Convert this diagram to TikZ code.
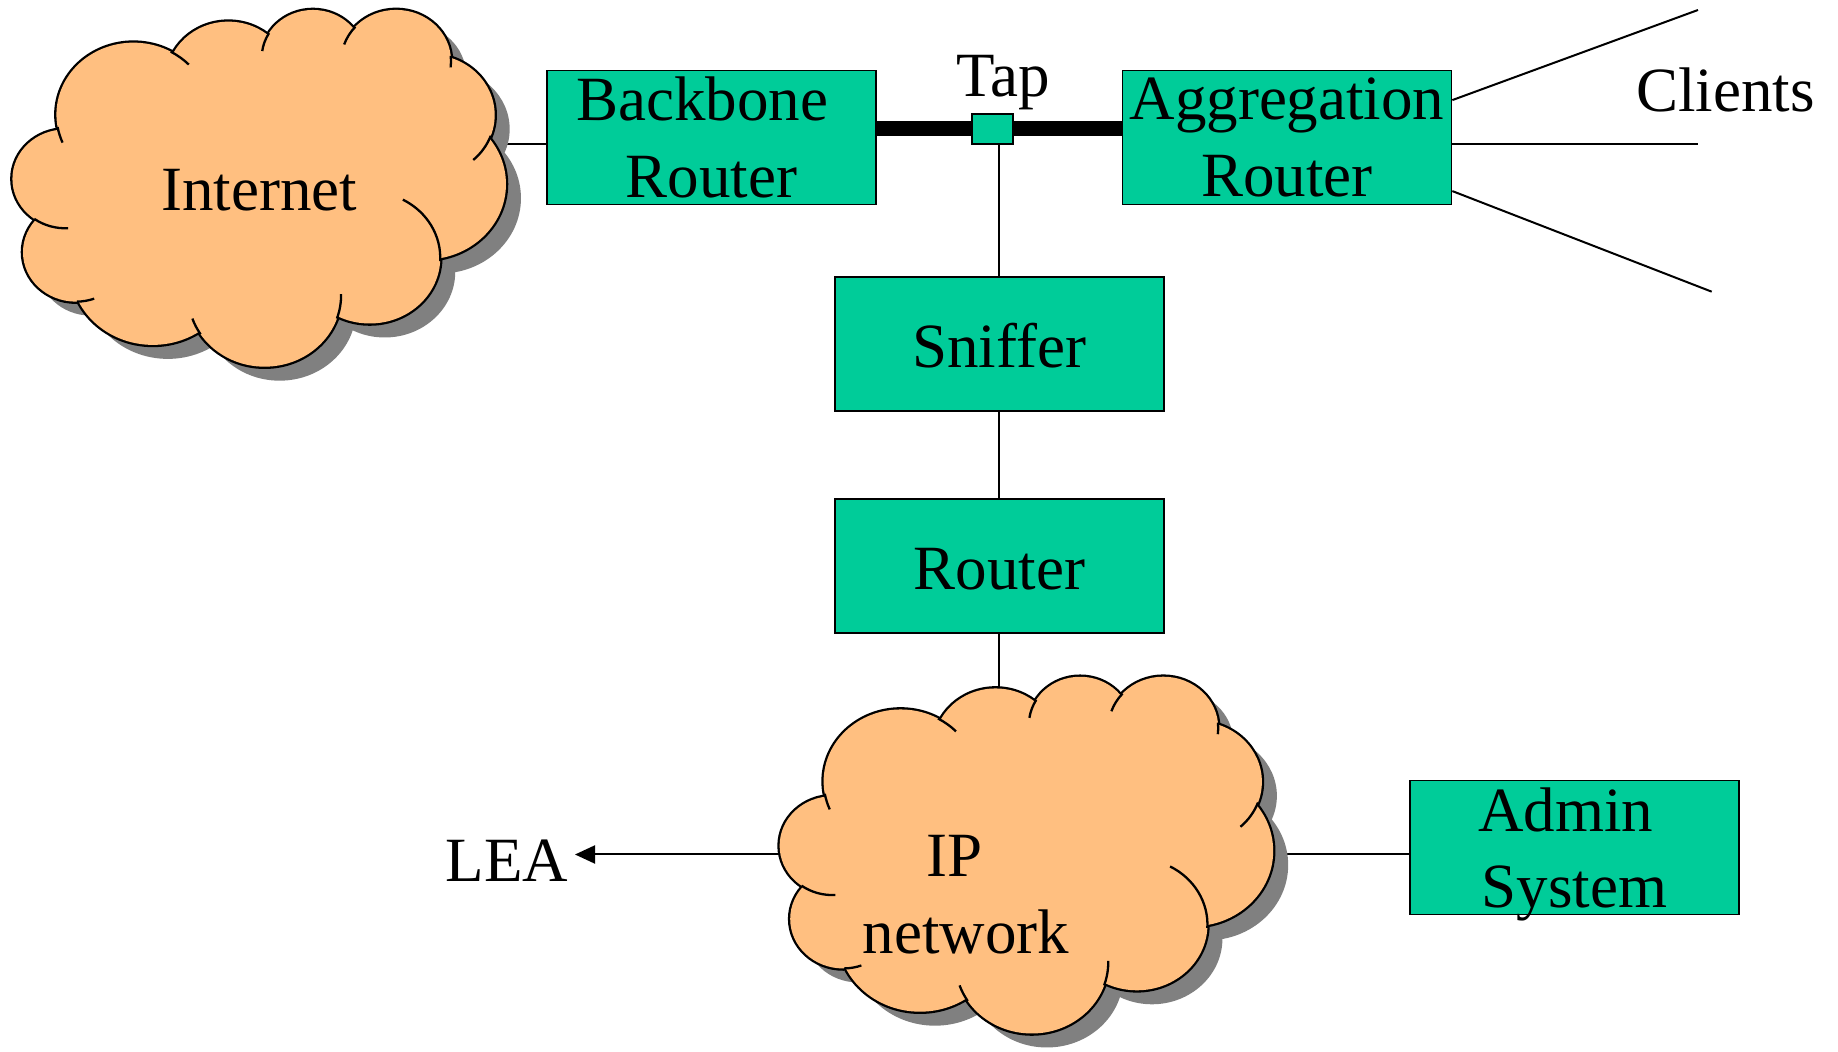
\documentclass[tikz,border=0pt]{standalone}
\usepackage{fontspec}
\setmainfont{Liberation Serif}
\usetikzlibrary{arrows.meta}
\definecolor{boxgreen}{RGB}{0,204,153}
\definecolor{cloudfill}{RGB}{255,191,128}
\definecolor{shadowgray}{RGB}{128,128,128}
\newcommand{\diagfont}{\fontsize{31.5pt}{38.25pt}\selectfont}
\pgfdeclarelayer{bg}
\pgfsetlayers{bg,main}
% cloud built from bumps (local frame, y downwards)
\newcommand{\cloudcircles}{%
 (373.6,343.6) circle[radius=215.6]
 (639.4,237.9) circle[radius=172.9]
 (876.1,173.2) circle[radius=143.3]
 (1109.1,183.5) circle[radius=153.8]
 (1203.8,345.2) circle[radius=181.3]
 (1190.7,552.5) circle[radius=226]
 (1035.4,773.2) circle[radius=197.3]
 (741,886.1) circle[radius=214]
 (427.9,803.7) circle[radius=231]
 (212.9,756.5) circle[radius=148.5]
 (183.1,536.6) circle[radius=148.3]}
\newcommand{\cloudpoly}{%
 (373.6,343.6) -- (639.4,237.9) -- (876.1,173.2) -- (1109.1,183.5) --
 (1203.8,345.2) -- (1190.7,552.5) -- (1035.4,773.2) -- (741,886.1) --
 (427.9,803.7) -- (212.9,756.5) -- (183.1,536.6) -- cycle}
\newcommand{\cloudstubs}{%
 (373.6,343.6) ++(157:215.6) arc[start angle=157,end angle=170,radius=215.6]
 (373.6,343.6) ++(-61:215.6) arc[start angle=-61,end angle=-44,radius=215.6]
 (876.1,173.2) ++(188:143.3) arc[start angle=188,end angle=211,radius=143.3]
 (1109.1,183.5) ++(199:153.8) arc[start angle=199,end angle=222,radius=153.8]
 (1109.1,183.5) ++(-6:153.8) arc[start angle=-6,end angle=7,radius=153.8]
 (1203.8,345.2) ++(20:181.3) arc[start angle=20,end angle=48,radius=181.3]
 (1035.4,773.2) ++(-62:197.3) arc[start angle=-62,end angle=3,radius=197.3]
 (741,886.1) ++(-1:214) arc[start angle=-1,end angle=19,radius=214]
 (741,886.1) ++(147:214) arc[start angle=147,end angle=161,radius=214]
 (212.9,756.5) ++(70:148.5) arc[start angle=70,end angle=89,radius=148.5]
 (183.1,536.6) ++(87:148.3) arc[start angle=87,end angle=126,radius=148.3]}
\newcommand{\drawcloud}[1]{%
 \begin{scope}[shift={#1}, xscale=0.357143, yscale=0.333333]
  \begin{scope}[shift={(42,42)}]
   \fill[shadowgray] \cloudcircles;
   \fill[shadowgray] \cloudpoly;
  \end{scope}
  \draw[line width=2.3pt] \cloudcircles;
  \fill[cloudfill] \cloudcircles;
  \fill[cloudfill] \cloudpoly;
  \draw[line width=1.15pt] \cloudstubs;
 \end{scope}}
\begin{document}
\begin{tikzpicture}[x=0.5pt,y=-0.5pt,
  box/.style={draw=black, line width=0.85pt, fill=boxgreen, minimum width=164.5pt,
    minimum height=67pt, inner sep=0pt, align=center, font=\diagfont},
  onebox/.style={box, text height=23.5pt, text depth=0pt},
  tapbox/.style={draw=black, line width=0.85pt, fill=boxgreen, minimum width=20.5pt,
    minimum height=15pt, inner sep=0pt},
  lbl/.style={inner sep=0pt, font=\diagfont},
  conn/.style={line width=1pt}]
\useasboundingbox (0,0) rectangle (1838,1052);
% clouds
\drawcloud{(0,0)}
\drawcloud{(767.2,666.8)}
% coordinates on the clouds
\coordinate (inet-e) at (495,144);
\coordinate (ipn-n) at (999.3,700);
\coordinate (ipn-w) at (800,854.5);
\coordinate (ipn-e) at (1260,854.5);
\coordinate (leatip) at (575,854.5);
\coordinate (cl1) at (1698,10);
\coordinate (cl2) at (1698,144);
\coordinate (cl3) at (1711.7,291.7);
% texts in clouds and free labels
\node[lbl, anchor=base] (inettxt) at (259,210.7) {Internet};
\node[lbl, align=center] (ipntxt) at (966,894.7) {IP\kern0.36em\\network};
\node[lbl, anchor=base] (taptxt) at (1003,96.7) {Tap};
\node[lbl, anchor=base] (clients) at (1725.5,111.7) {Clients};
\node[lbl, anchor=base] (lea) at (507,881.7) {LEA};
% boxes
\node[box] (bb) at (711.5,137.5) {Backbone\kern0.3em\\Router};
\node[box] (ag) at (1287,137.5) {Aggregation\\Router};
\node[onebox] (sn) at (999.3,344) {Sniffer};
\node[onebox] (rt) at (999.3,566) {Router};
\node[box] (ad) at (1574.5,847.5) {Admin\kern0.28em\\\smash{System}};
\node[tapbox] (tap) at (992.2,129) {};
% connectors
\begin{pgfonlayer}{bg}
 \fill[white] (0,0) rectangle (1838,1052);
 \draw[line width=7.5pt] (bb.east |- tap.center) -- (ag.west |- tap.center);
 \draw[conn] (inet-e) -- (bb.west |- inet-e);
 \draw[conn] (sn.north |- tap.south) -- (sn.north);
 \draw[conn] (sn.south) -- (rt.north);
 \draw[conn] (rt.south) -- (ipn-n);
 \draw[conn, -{Triangle[length=10pt,width=9pt]}] (ipn-w) -- (leatip);
 \draw[conn] (ipn-e) -- (ad.west |- ipn-e);
 \draw[conn] ([yshift=18.7pt]ag.east) -- (cl1);
 \draw[conn] (ag.east |- cl2) -- (cl2);
 \draw[conn] ([yshift=-26.8pt]ag.east) -- (cl3);
\end{pgfonlayer}
\end{tikzpicture}
\end{document}
